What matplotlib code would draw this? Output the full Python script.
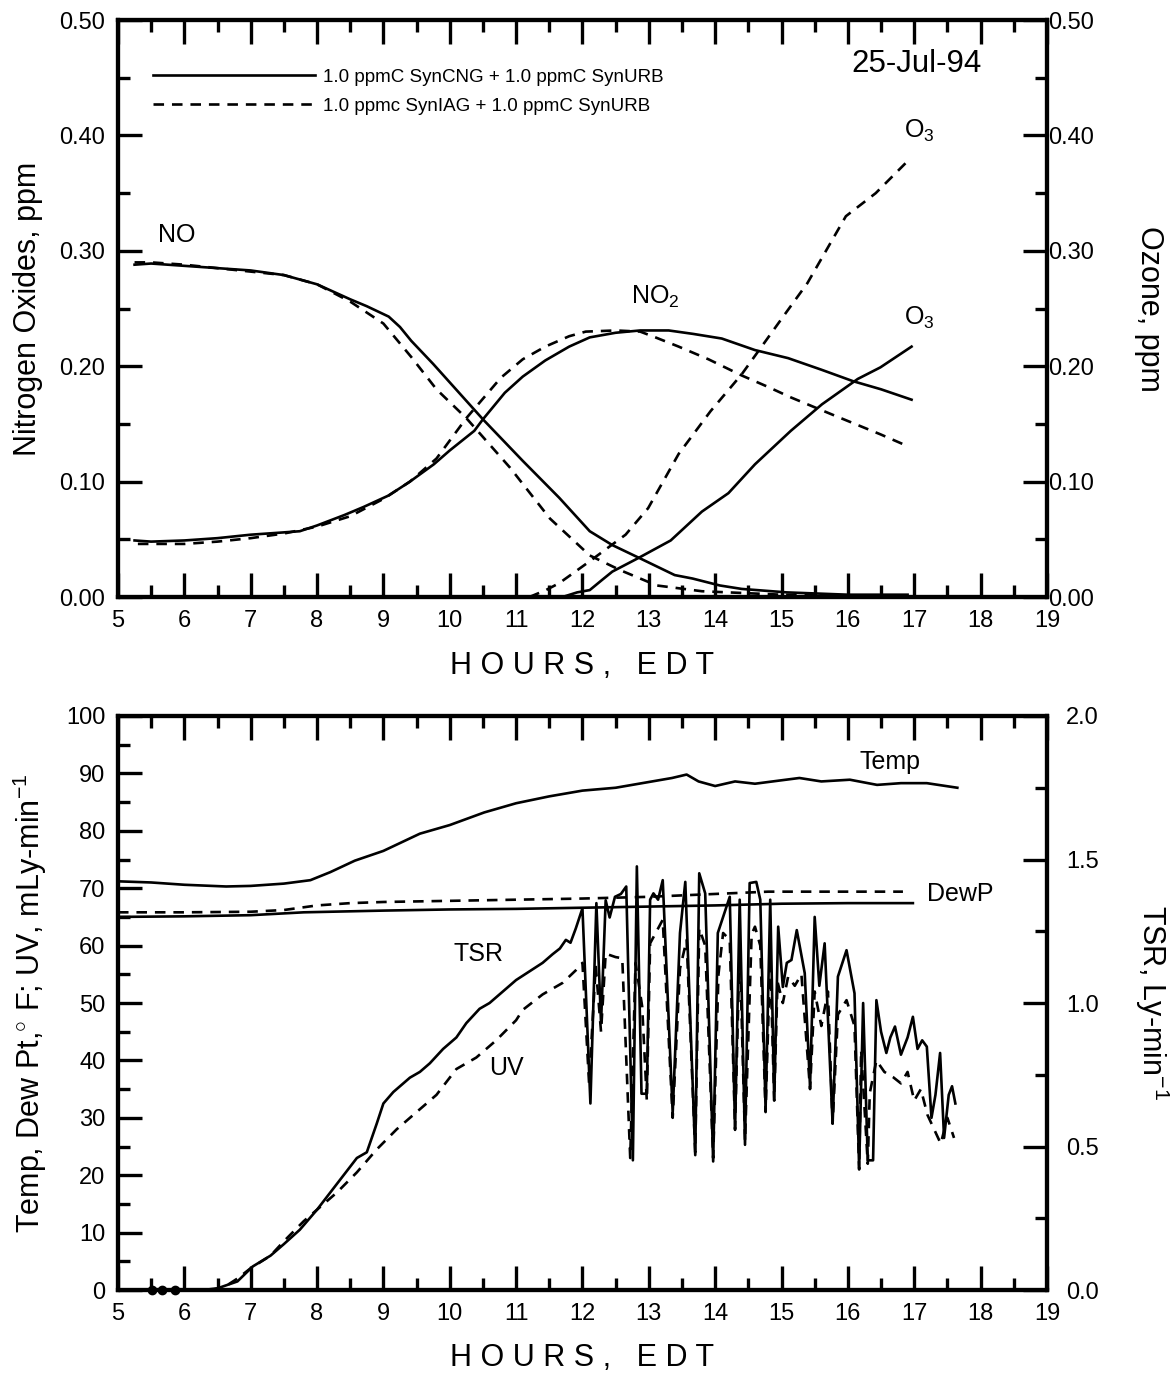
import matplotlib

matplotlib.use("Agg")
import matplotlib.pyplot as plt
from matplotlib.ticker import MultipleLocator, FormatStrFormatter

plt.rcParams["font.family"] = ["Liberation Sans", "DejaVu Sans"]
plt.rcParams["mathtext.fontset"] = "custom"
plt.rcParams["mathtext.rm"] = "Liberation Sans"
plt.rcParams["mathtext.it"] = "Liberation Sans:italic"
plt.rcParams["mathtext.bf"] = "Liberation Sans:bold"

# ---- top panel: NOx (left axis) and O3 (right axis), ppm ----
no_cng_h = [5.25, 5.5, 6.0, 6.5, 7.0, 7.5, 8.0, 8.5, 8.75, 9.08, 9.25, 9.42, 9.75, 10.0,
            10.25, 10.5, 11.1, 11.65, 12.11, 12.45, 12.85, 13.39, 13.66, 14.07, 14.4,
            15.08, 16.0, 16.9]
no_cng = [0.288, 0.289, 0.287, 0.285, 0.283, 0.279, 0.271, 0.258, 0.252, 0.243, 0.234, 0.222,
          0.202, 0.186, 0.170, 0.154, 0.118, 0.086, 0.057, 0.045, 0.034, 0.019, 0.016, 0.010,
          0.007, 0.004, 0.002, 0.002]

no_iag_h = [5.25, 5.5, 6.0, 6.5, 7.0, 7.5, 8.0, 8.5, 9.0, 9.42, 9.8, 10.25,
            10.91, 11.51, 12.11, 12.58, 13.12, 13.8, 15.0, 16.0, 16.9]
no_iag = [0.290, 0.290, 0.288, 0.285, 0.282, 0.279, 0.271, 0.256, 0.237, 0.208, 0.180, 0.155,
          0.112, 0.068, 0.036, 0.023, 0.010, 0.005, 0.002, 0.001, 0.001]

no2_cng_h = [5.25, 5.5, 6.0, 6.5, 7.0, 7.5, 7.74, 8.0, 8.41, 8.7, 9.08, 9.4, 9.76, 10.0,
             10.37, 10.5, 10.83, 11.1, 11.44, 11.8, 12.11, 12.5, 12.87, 13.3, 13.67, 14.1,
             14.6, 15.1, 15.6, 16.08, 16.5, 16.96]
no2_cng = [0.049, 0.048, 0.049, 0.051, 0.054, 0.056, 0.057, 0.062, 0.071, 0.078, 0.088, 0.100,
           0.115, 0.127, 0.144, 0.154, 0.177, 0.191, 0.205, 0.217, 0.225, 0.229, 0.231, 0.231,
           0.228, 0.224, 0.214, 0.207, 0.197, 0.187, 0.180, 0.171]

no2_iag_h = [5.3, 5.5, 6.0, 6.5, 7.0, 7.5, 8.0, 8.5, 9.0, 9.4, 9.8, 10.25, 10.77, 11.1,
             11.44, 11.8, 12.05, 12.5, 12.87, 13.1, 13.45, 13.9, 14.4, 14.8, 15.14, 15.81,
             16.49, 16.89]
no2_iag = [0.046, 0.046, 0.046, 0.048, 0.051, 0.055, 0.061, 0.070, 0.085, 0.100, 0.120, 0.155,
           0.190, 0.206, 0.217, 0.226, 0.230, 0.231, 0.230, 0.225, 0.217, 0.206, 0.192, 0.182,
           0.173, 0.157, 0.141, 0.131]

o3_cng_h = [11.7, 11.92, 12.11, 12.3, 12.45, 12.85, 13.33, 13.8, 14.2, 14.6, 15.14, 15.61,
            16.15, 16.49, 16.96]
o3_cng = [0.000, 0.004, 0.006, 0.015, 0.022, 0.034, 0.049, 0.074, 0.090, 0.115, 0.144, 0.167,
          0.189, 0.199, 0.217]

o3_iag_h = [11.2, 11.45, 11.65, 12.11, 12.65, 12.99, 13.45, 13.93, 14.4, 14.7, 15.05, 15.39,
            15.97, 16.42, 16.87]
o3_iag = [0.000, 0.006, 0.012, 0.031, 0.054, 0.077, 0.124, 0.161, 0.193, 0.217, 0.245, 0.272,
          0.330, 0.350, 0.376]

legend_labels = ["1.0 ppmC SynCNG + 1.0 ppmC SynURB", "1.0 ppmc SynIAG + 1.0 ppmC SynURB"]

# ---- bottom panel: met data ----
temp_h = [5.0, 5.5, 6.0, 6.63, 7.0, 7.5, 7.9, 8.2, 8.57, 9.0, 9.55, 10.0, 10.52, 11.0, 11.5,
          12.0, 12.5, 13.0, 13.35, 13.57, 13.75, 14.0, 14.3, 14.6, 15.0, 15.27, 15.6, 16.03,
          16.44, 16.8, 17.19, 17.65]
temp = [71.2, 71.0, 70.6, 70.3, 70.4, 70.8, 71.4, 72.8, 74.8, 76.5, 79.5, 81.0, 83.2, 84.8,
        86.0, 87.0, 87.5, 88.5, 89.2, 89.8, 88.6, 87.8, 88.6, 88.2, 88.8, 89.2, 88.6, 88.9,
        88.0, 88.3, 88.3, 87.5]

dew_h = [5.0, 6.0, 7.0, 7.8, 9.0, 10.0, 11.0, 12.0, 13.0, 14.0, 15.0, 16.0, 16.98]
dew = [65.0, 65.1, 65.3, 65.8, 66.1, 66.3, 66.4, 66.6, 66.8, 67.0, 67.3, 67.4, 67.4]

dew2_h = [5.0, 6.0, 7.0, 7.5, 8.0, 8.5, 9.0, 10.0, 11.0, 12.0, 13.0, 14.0, 14.8, 16.83]
dew2 = [65.8, 65.8, 65.9, 66.2, 67.0, 67.4, 67.6, 67.8, 68.0, 68.2, 68.5, 69.0, 69.4, 69.4]

# total solar radiation, Ly-min-1 (right axis)
tsr_h = [6.28, 6.5, 6.8, 7.03, 7.3, 7.5, 7.74, 8.0, 8.3, 8.6,
         8.75, 8.9, 9.0, 9.15, 9.4, 9.55, 9.7, 9.9, 10.1, 10.25,
         10.45, 10.6, 10.8, 11.0, 11.2, 11.4, 11.55, 11.66, 11.75, 11.82,
         11.9, 12.0, 12.12, 12.21, 12.28, 12.35, 12.41, 12.49, 12.58, 12.66,
         12.76, 12.82, 12.89, 12.97, 13.02, 13.07, 13.14, 13.21, 13.36, 13.47,
         13.55, 13.7, 13.76, 13.85, 13.97, 14.04, 14.12, 14.22, 14.3, 14.37,
         14.45, 14.52, 14.62, 14.68, 14.76, 14.83, 14.89, 14.95, 15.02, 15.08,
         15.15, 15.23, 15.35, 15.43, 15.5, 15.57, 15.65, 15.77, 15.85, 15.98,
         16.1, 16.17, 16.23, 16.3, 16.38, 16.43, 16.5, 16.58, 16.64, 16.71,
         16.8, 16.9, 16.98, 17.05, 17.12, 17.19, 17.26, 17.32, 17.39, 17.45,
         17.52, 17.57, 17.62]
tsr = [0.000, 0.006, 0.030, 0.082, 0.120, 0.160, 0.210, 0.280, 0.370, 0.460,
       0.480, 0.580, 0.650, 0.690, 0.740, 0.760, 0.790, 0.840, 0.880, 0.930,
       0.980, 1.000, 1.040, 1.080, 1.110, 1.140, 1.170, 1.190, 1.220, 1.210,
       1.260, 1.330, 0.650, 1.348, 0.930, 1.358, 1.298, 1.370, 1.380, 1.406,
       0.452, 1.476, 0.684, 0.684, 1.360, 1.382, 1.360, 1.428, 0.616, 1.244,
       1.422, 0.470, 1.452, 1.382, 0.448, 1.244, 1.300, 1.370, 0.558, 1.360,
       0.506, 1.418, 1.422, 1.360, 0.628, 1.360, 0.662, 1.266, 1.056, 1.140,
       1.150, 1.254, 1.104, 0.708, 1.300, 1.060, 1.208, 0.580, 1.092, 1.184,
       1.034, 0.424, 1.000, 0.452, 0.452, 1.010, 0.900, 0.826, 0.880, 0.918,
       0.820, 0.880, 0.952, 0.840, 0.870, 0.848, 0.600, 0.680, 0.826, 0.530,
       0.680, 0.710, 0.650]

# UV, mLy-min-1 (left axis)
uv_h = [6.4, 6.6, 6.8, 7.0, 7.3, 7.5, 7.8, 8.0, 8.3, 8.6,
        8.9, 9.2, 9.5, 9.8, 10.1, 10.4, 10.7, 11.0, 11.1, 11.4,
        11.7, 11.9, 12.0, 12.1, 12.2, 12.28, 12.35, 12.5, 12.6, 12.72,
        12.8, 12.9, 12.97, 13.02, 13.21, 13.36, 13.47, 13.57, 13.7, 13.76,
        13.85, 13.97, 14.05, 14.12, 14.22, 14.3, 14.37, 14.45, 14.55, 14.6,
        14.68, 14.76, 14.83, 14.89, 14.94, 15.02, 15.1, 15.2, 15.3, 15.43,
        15.5, 15.6, 15.7, 15.77, 15.85, 15.98, 16.1, 16.17, 16.2, 16.3,
        16.33, 16.43, 16.55, 16.68, 16.8, 16.9, 17.0, 17.1, 17.2, 17.3,
        17.4, 17.5, 17.6]
uv = [0, 0.5, 2, 3.8, 6, 8.5, 12, 14, 17, 20.5,
      24.5, 28, 31, 34, 38.5, 40.5, 43.5, 47, 48.8, 51.5,
      53.5, 55.7, 57, 36, 56.5, 45, 58.6, 58, 57.8, 23,
      57, 49.4, 33, 60.4, 64.5, 30, 56, 61, 24, 63,
      60, 23, 55, 62.2, 61, 28, 60, 26, 62, 63.3,
      60, 31, 58, 33, 53.7, 50, 54.6, 53, 55, 35,
      52, 46, 52, 29, 48, 50.5, 46, 21, 41.8, 22,
      34.3, 40, 38, 37.1, 36, 38, 33, 35, 30.5, 28,
      25.5, 30, 26.5]

dark_h = [5.51, 5.66, 5.86]
dark_v = [0, 0, 0]

LW = 1.9
DASH = (0, (4, 3))
TICK_FS = 17
NOTE_FS = 18


def style_axis(ax, left_pad=9, right=False, right_pad=8):
    for sp in ax.spines.values():
        sp.set_linewidth(3)
    ax.tick_params(which="major", direction="in", length=17, width=2.4,
                   labelsize=TICK_FS, pad=left_pad)
    ax.tick_params(which="minor", direction="in", length=8.5, width=2.4)
    if right:
        ax.tick_params(axis="y", which="both", left=False, right=True, pad=right_pad)


fig = plt.figure(figsize=(11.75, 13.74), dpi=100)
ax1 = fig.add_axes([0.1004, 0.5655, 0.7906, 0.4199])
ax2 = fig.add_axes([0.1004, 0.0611, 0.7906, 0.4178])

# ---- top panel ----
ax1.plot(no_cng_h, no_cng, color="black", lw=LW, label=legend_labels[0])
ax1.plot(no_iag_h, no_iag, color="black", lw=LW, ls=DASH, label=legend_labels[1])
ax1.plot(no2_cng_h, no2_cng, color="black", lw=LW)
ax1.plot(no2_iag_h, no2_iag, color="black", lw=LW, ls=DASH)
ax1.set_xlim(5, 19)
ax1.set_ylim(0, 0.5)
ax1.xaxis.set_major_locator(MultipleLocator(1))
ax1.xaxis.set_minor_locator(MultipleLocator(0.5))
ax1.yaxis.set_major_locator(MultipleLocator(0.1))
ax1.yaxis.set_minor_locator(MultipleLocator(0.05))
ax1.yaxis.set_major_formatter(FormatStrFormatter("%.2f"))
style_axis(ax1)
ax1.tick_params(axis="x", which="both", top=True)
ax1.tick_params(axis="y", which="both", right=False)
ax1.set_ylabel("Nitrogen Oxides, ppm", fontsize=22, labelpad=12)
ax1.set_xlabel("H O U R S ,   E D T", fontsize=22, labelpad=14)

ax1b = ax1.twinx()
ax1b.plot(o3_cng_h, o3_cng, color="black", lw=LW)
ax1b.plot(o3_iag_h, o3_iag, color="black", lw=LW, ls=DASH)
ax1b.set_ylim(0, 0.5)
ax1b.yaxis.set_major_locator(MultipleLocator(0.1))
ax1b.yaxis.set_minor_locator(MultipleLocator(0.05))
ax1b.yaxis.set_major_formatter(FormatStrFormatter("%.2f"))
style_axis(ax1b, right=True, right_pad=1)
ax1b.set_ylabel("Ozone, ppm", fontsize=22, rotation=270, labelpad=50)

ax1.legend(loc="upper left", bbox_to_anchor=(0.02, 0.945), frameon=False, fontsize=13.5,
           handlelength=8.6, handletextpad=0.45, labelspacing=0.62)
ax1.text(17.03, 0.462, "25-Jul-94", fontsize=22.5, ha="center", va="center")
ax1.text(5.6, 0.314, "NO", fontsize=NOTE_FS, ha="left", va="center")
ax1.text(13.1, 0.26, "NO$_2$", fontsize=NOTE_FS, ha="center", va="center")
ax1.text(17.07, 0.404, "O$_3$", fontsize=NOTE_FS, ha="center", va="center")
ax1.text(17.07, 0.242, "O$_3$", fontsize=NOTE_FS, ha="center", va="center")

# ---- bottom panel ----
ax2.plot(temp_h, temp, color="black", lw=LW)
ax2.plot(dew_h, dew, color="black", lw=LW)
ax2.plot(dew2_h, dew2, color="black", lw=LW, ls=DASH)
ax2.plot(uv_h, uv, color="black", lw=LW, ls=DASH)
ax2.plot(dark_h, dark_v, "o", color="black", ms=6, clip_on=False, zorder=5)
ax2.set_xlim(5, 19)
ax2.set_ylim(0, 100)
ax2.xaxis.set_major_locator(MultipleLocator(1))
ax2.xaxis.set_minor_locator(MultipleLocator(0.5))
ax2.yaxis.set_major_locator(MultipleLocator(10))
ax2.yaxis.set_minor_locator(MultipleLocator(5))
style_axis(ax2)
ax2.tick_params(axis="x", which="both", top=True)
ax2.tick_params(axis="y", which="both", right=False)
ax2.set_ylabel("Temp, Dew Pt,$^{\\circ}$ F; UV, mLy-min$^{\\mathregular{-1}}$", fontsize=22, labelpad=12)
ax2.set_xlabel("H O U R S ,   E D T", fontsize=22, labelpad=13)

ax2b = ax2.twinx()
ax2b.plot(tsr_h, tsr, color="black", lw=LW)
ax2b.set_ylim(0, 2.0)
ax2b.yaxis.set_major_locator(MultipleLocator(0.5))
ax2b.yaxis.set_minor_locator(MultipleLocator(0.25))
ax2b.yaxis.set_major_formatter(FormatStrFormatter("%.1f"))
style_axis(ax2b, right=True, right_pad=14)
ax2b.set_ylabel("TSR, Ly-min$^{\\mathregular{-1}}$", fontsize=22, rotation=270, labelpad=52)

ax2.text(16.63, 92, "Temp", fontsize=NOTE_FS, ha="center", va="center")
ax2.text(17.2, 69, "DewP", fontsize=NOTE_FS, ha="left", va="center")
ax2.text(10.43, 58.5, "TSR", fontsize=NOTE_FS, ha="center", va="center")
ax2.text(10.85, 38.7, "UV", fontsize=NOTE_FS, ha="center", va="center")

fig.savefig("out.png", dpi=100)
plt.close(fig)
